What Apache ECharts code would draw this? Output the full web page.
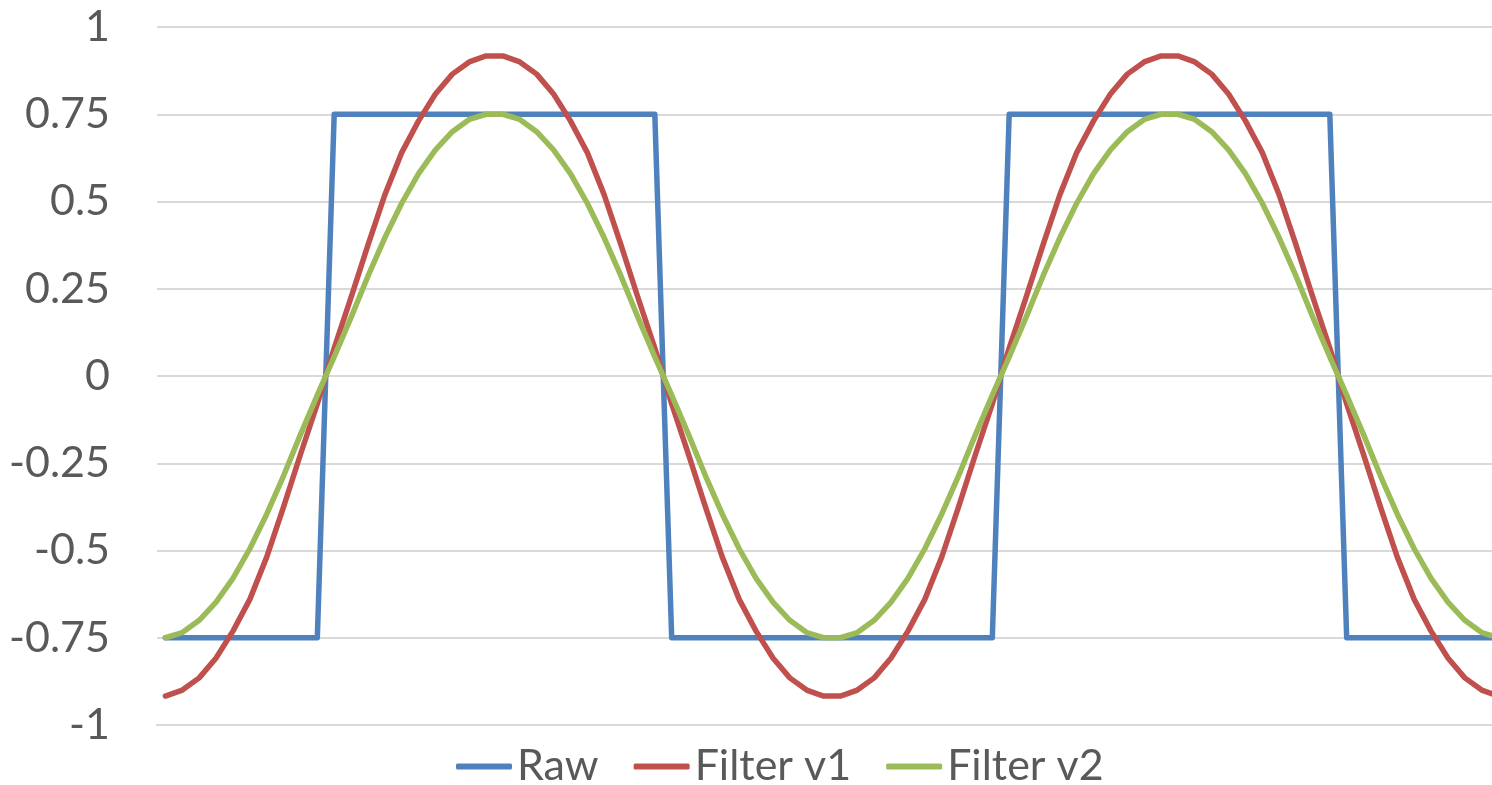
<!DOCTYPE html>
<html>
<head>
<meta charset="utf-8">
<title>Raw vs filters</title>
<script src="https://cdn.jsdelivr.net/npm/echarts@6/dist/echarts.min.js"></script>
<style>
    html, body { margin: 0; padding: 0; background: #ffffff; overflow: hidden; }
    /* the original is cropped on the right, so the chart runs past the window */
    #chart { width: 1507px; height: 785px; }
</style>
</head>
<body>
<div id="chart"></div>
<script>
// Sample index (80 samples, two periods, no labels shown on the axis)
const samples = [];
for (let i = 1; i <= 80; i++) samples.push(String(i));

// Series values
const raw = [
    -0.75, -0.75, -0.75, -0.75, -0.75, -0.75, -0.75, -0.75, -0.75, -0.75,
    0.75, 0.75, 0.75, 0.75, 0.75, 0.75, 0.75, 0.75, 0.75, 0.75,
    0.75, 0.75, 0.75, 0.75, 0.75, 0.75, 0.75, 0.75, 0.75, 0.75,
    -0.75, -0.75, -0.75, -0.75, -0.75, -0.75, -0.75, -0.75, -0.75, -0.75,
    -0.75, -0.75, -0.75, -0.75, -0.75, -0.75, -0.75, -0.75, -0.75, -0.75,
    0.75, 0.75, 0.75, 0.75, 0.75, 0.75, 0.75, 0.75, 0.75, 0.75,
    0.75, 0.75, 0.75, 0.75, 0.75, 0.75, 0.75, 0.75, 0.75, 0.75,
    -0.75, -0.75, -0.75, -0.75, -0.75, -0.75, -0.75, -0.75, -0.75, -0.75
];

const filterV1 = [
    -0.917, -0.900, -0.865, -0.808, -0.731, -0.640, -0.519, -0.375, -0.225, -0.080,
    0.080, 0.225, 0.375, 0.519, 0.640, 0.731, 0.808, 0.865, 0.900, 0.917,
    0.917, 0.900, 0.865, 0.808, 0.731, 0.640, 0.519, 0.375, 0.225, 0.080,
    -0.080, -0.225, -0.375, -0.519, -0.640, -0.731, -0.808, -0.865, -0.900, -0.917,
    -0.917, -0.900, -0.865, -0.808, -0.731, -0.640, -0.519, -0.375, -0.225, -0.080,
    0.080, 0.225, 0.375, 0.519, 0.640, 0.731, 0.808, 0.865, 0.900, 0.917,
    0.917, 0.900, 0.865, 0.808, 0.731, 0.640, 0.519, 0.375, 0.225, 0.080,
    -0.080, -0.225, -0.375, -0.519, -0.640, -0.731, -0.808, -0.865, -0.900, -0.917
];

const filterV2 = [
    -0.750, -0.735, -0.700, -0.648, -0.580, -0.495, -0.396, -0.286, -0.168, -0.055,
    0.055, 0.168, 0.286, 0.396, 0.495, 0.580, 0.648, 0.700, 0.735, 0.750,
    0.750, 0.735, 0.700, 0.648, 0.580, 0.495, 0.396, 0.286, 0.168, 0.055,
    -0.055, -0.168, -0.286, -0.396, -0.495, -0.580, -0.648, -0.700, -0.735, -0.750,
    -0.750, -0.735, -0.700, -0.648, -0.580, -0.495, -0.396, -0.286, -0.168, -0.055,
    0.055, 0.168, 0.286, 0.396, 0.495, 0.580, 0.648, 0.700, 0.735, 0.750,
    0.750, 0.735, 0.700, 0.648, 0.580, 0.495, 0.396, 0.286, 0.168, 0.055,
    -0.055, -0.168, -0.286, -0.396, -0.495, -0.580, -0.648, -0.700, -0.735, -0.750
];

const seriesNames = ['Raw', 'Filter v1', 'Filter v2'];
const seriesColors = ['#4f81bd', '#c0504d', '#9bbb59'];

const textColor = '#595959';
const fontFamily = 'Lato, "Open Sans", sans-serif';

const chart = echarts.init(document.getElementById('chart'), null, { renderer: 'canvas' });

const makeLine = (name, data, color) => ({
    name: name,
    type: 'line',
    data: data,
    symbol: 'none',
    smooth: false,
    lineStyle: { color: color, width: 5.5, cap: 'round', join: 'round' },
    itemStyle: { color: color }
});

chart.setOption({
    animation: false,
    backgroundColor: '#ffffff',
    grid: {
        left: 157,
        right: 0,
        top: 27,
        bottom: 60
    },
    legend: {
        data: seriesNames,
        top: 745,
        left: 456,
        padding: 0,
        icon: 'roundRect',
        itemWidth: 56,
        itemHeight: 6,
        itemGap: 35,
        textStyle: { color: textColor, fontSize: 43, fontFamily: fontFamily }
    },
    xAxis: {
        type: 'category',
        data: samples,
        boundaryGap: true,
        axisLine: { onZero: false, lineStyle: { color: '#d9d9d9', width: 2 } },
        axisTick: { show: false },
        axisLabel: { show: false },
        splitLine: { show: false }
    },
    yAxis: {
        type: 'value',
        min: -1,
        max: 1,
        interval: 0.25,
        axisLine: { show: false },
        axisTick: { show: false },
        axisLabel: {
            color: textColor,
            fontSize: 43,
            fontFamily: fontFamily,
            margin: 47
        },
        splitLine: { lineStyle: { color: '#d9d9d9', width: 2 } }
    },
    series: [
        makeLine(seriesNames[0], raw, seriesColors[0]),
        makeLine(seriesNames[1], filterV1, seriesColors[1]),
        makeLine(seriesNames[2], filterV2, seriesColors[2])
    ]
});
</script>
</body>
</html>
